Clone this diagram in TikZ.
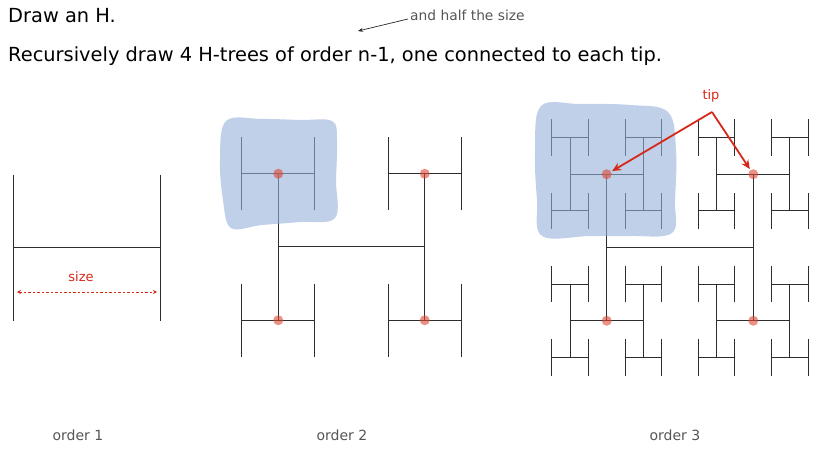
\documentclass[tikz,border=0pt]{standalone}
\usepackage{fontspec}
\setmainfont{DejaVu Sans}
\usetikzlibrary{arrows.meta}
\definecolor{hred}{RGB}{214,40,24}
\definecolor{dotred}{RGB}{222,70,50}
\definecolor{blobblue}{RGB}{148,177,217}
\definecolor{lblgray}{RGB}{85,85,85}
\definecolor{hgray}{RGB}{45,45,45}
\tikzset{
  hline/.style={line width=1pt, draw=hgray},
  blob/.style={fill=blobblue, fill opacity=0.6, draw=none},
  tipdot/.style={circle, fill=dotred, fill opacity=0.6, draw=none, inner sep=0pt, minimum size=10pt},
  tiparrow/.style={draw=hred, line width=1.8pt, -{Stealth[length=9pt,width=8pt]}, shorten >=1pt},
  sizearrow/.style={draw=hred, line width=0.8pt, dashed, dash pattern=on 2.5pt off 2pt, {Stealth[length=4pt,width=4pt]}-{Stealth[length=4pt,width=4pt]}},
  halfarrow/.style={draw=black!85, line width=0.7pt, -{Stealth[length=5pt,width=4pt]}},
  maintext/.style={font=\fontsize{19.4}{21}\selectfont, anchor=base west, inner sep=0pt},
  notetext/.style={font=\fontsize{13.8}{15}\selectfont, text=lblgray, anchor=base west, inner sep=0pt},
  ordertext/.style={font=\fontsize{14}{15}\selectfont, text=lblgray, anchor=base, inner sep=0pt},
  redtext/.style={font=\fontsize{13}{14}\selectfont, text=hred, anchor=base, inner sep=0pt}
}
\newcommand\Htreedraw[4]{%
  \begingroup
  \pgfmathsetmacro\hcx{#1}%
  \pgfmathsetmacro\hcy{#2}%
  \pgfmathsetmacro\hhs{#3/2}%
  \pgfmathsetmacro\hxl{\hcx-\hhs}%
  \pgfmathsetmacro\hxr{\hcx+\hhs}%
  \pgfmathsetmacro\hyt{\hcy-\hhs}%
  \pgfmathsetmacro\hyb{\hcy+\hhs}%
  \draw[hline] (\hxl,\hyt) -- (\hxl,\hyb) (\hxl,\hcy) -- (\hxr,\hcy) (\hxr,\hyt) -- (\hxr,\hyb);
  \ifnum#4>1
    \edef\hnextcalls{%
      \noexpand\Htreedraw{\hxl}{\hyt}{\hhs}{\the\numexpr#4-1\relax}%
      \noexpand\Htreedraw{\hxr}{\hyt}{\hhs}{\the\numexpr#4-1\relax}%
      \noexpand\Htreedraw{\hxl}{\hyb}{\hhs}{\the\numexpr#4-1\relax}%
      \noexpand\Htreedraw{\hxr}{\hyb}{\hhs}{\the\numexpr#4-1\relax}}%
    \hnextcalls
  \fi
  \endgroup}
\begin{document}
\begin{tikzpicture}[x=1pt,y=-1pt]
\useasboundingbox (0,0) rectangle (825,449);
% texts
\node[maintext] (t1) at (8,23) {Draw an H.};
\node[maintext] (t2) at (8,62) {Recursively draw 4 H-trees of order n-1, one connected to each tip.};
\node[notetext] (half) at (410,21) {and half the size};
\coordinate (halfhead) at (358,31);
\draw[halfarrow] (408,19) -- (halfhead);
% H-trees
\Htreedraw{87}{248}{146.5}{1}
\Htreedraw{351.5}{247}{146.5}{2}
\Htreedraw{680}{247.5}{146.5}{3}
% blobs
\path[blob] plot[smooth cycle, tension=0.6] coordinates {(226,121) (262,119) (300,120) (332,121) (337,140) (336,180) (335,218) (300,222) (262,225) (231,228) (223,200) (220,160)};
\path[blob] plot[smooth cycle, tension=0.6] coordinates {(541,106) (580,104) (630,105) (668,112) (676,150) (675,200) (672,233) (630,236) (590,236) (542,236) (537,200) (535,150)};
% tip dots
\node[tipdot] (a1) at (278.25,173.75) {};
\node[tipdot] (a2) at (424.75,173.75) {};
\node[tipdot] (a3) at (278.25,320.25) {};
\node[tipdot] (a4) at (424.75,320.25) {};
\node[tipdot] (b1) at (606.75,174.25) {};
\node[tipdot] (b2) at (753.25,174.25) {};
\node[tipdot] (b3) at (606.75,320.75) {};
\node[tipdot] (b4) at (753.25,320.75) {};
% tip label and arrows
\node[redtext] (tiplbl) at (711,100) {tip};
\coordinate (tipsrc) at (712,112);
\draw[tiparrow] (tipsrc) -- (b1);
\draw[tiparrow] (tipsrc) -- (b2);
% size
\coordinate (sizeL) at (17,292);
\coordinate (sizeR) at (157,292);
\draw[sizearrow] (sizeL) -- (sizeR);
\node[redtext] (sizelbl) at (81,282) {size};
% order labels
\node[ordertext] (o1) at (78,440) {order 1};
\node[ordertext] (o2) at (342,440) {order 2};
\node[ordertext] (o3) at (675,440) {order 3};
\end{tikzpicture}
\end{document}
